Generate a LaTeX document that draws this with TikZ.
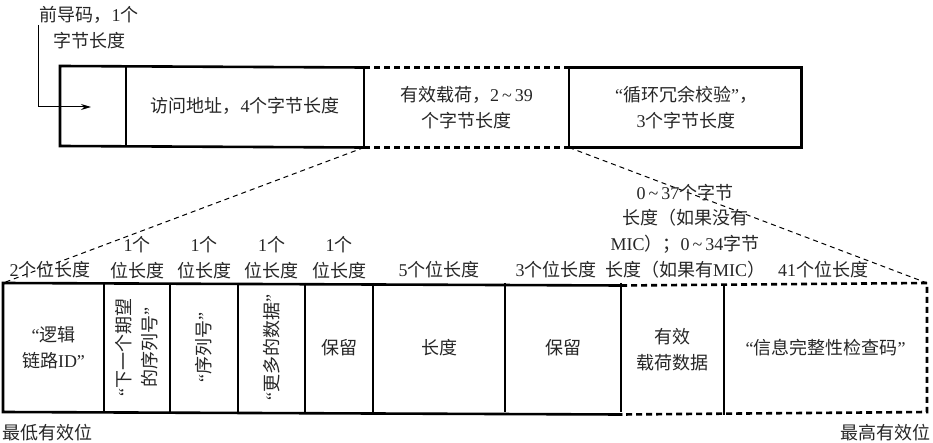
\documentclass[tikz,border=0pt]{standalone}
\usepackage{fontspec}
\setmainfont{Noto Sans CJK SC}
\newfontfamily\lat{Liberation Serif}
\usetikzlibrary{arrows.meta}
\newcommand\myoq{{\lat “}}
\newcommand\mycq{{\lat ”}}
\newcommand\dg[1]{{\lat #1}}
\newcommand\tl{\,{\lat\textasciitilde}\,}
\definecolor{txt}{HTML}{262626}
\tikzset{
  lbl/.style={font=\fontsize{18}{25.7}\selectfont, text=txt, align=center, inner sep=0pt},
  topcell/.style={lbl, minimum height=80pt, outer sep=0pt},
  botcell/.style={lbl, minimum height=129pt, outer sep=0pt},
  outer/.style={line width=2.6pt, line join=miter, line cap=rect},
  divider/.style={line width=1.3pt},
  dashedge/.style={line width=2.6pt, dash pattern=on 6pt off 4pt},
  slant/.style={line width=1pt, dash pattern=on 5pt off 4pt},
  arrowline/.style={line width=1pt, -{Stealth[length=10pt,width=6pt]}},
}
\begin{document}
\begin{tikzpicture}[x=1pt,y=-1pt]
\useasboundingbox (0,0) rectangle (933,443);
% top frame cells
\node[topcell, minimum width=66pt]  (t1) at (93,106) {};
\node[topcell, minimum width=238pt] (t2) at (245,106) {访问地址，\dg{4}个字节长度};
\node[topcell, minimum width=205pt] (t3) at (466.5,107.5) {有效载荷，\dg{2}\tl\dg{39}\\个字节长度};
\node[topcell, minimum width=231pt] (t4) at (686,107.5) {\myoq 循环冗余校验\mycq，\\\dg{3}个字节长度};
% preamble label and arrow
\node[lbl] (pre) at (89,27.5) {前导码，\dg{1}个\\字节长度};
\coordinate (as) at (38,25);
\coordinate (ae) at (91,107);
\draw[arrowline] (as) |- (ae);
% top frame lines
\draw[outer] (t3.north west) -- (t1.north west) -- (t1.south west) -- (t3.south west);
\draw[outer] (t3.north east) -- (t4.north east) -- (t4.south east) -- (t3.south east);
\draw[dashedge] (t3.north west) -- (t3.north east);
\draw[dashedge] (t3.south west) -- (t3.south east);
\foreach \c in {t1,t2,t3} \draw[divider] (\c.north east) -- (\c.south east);
% bottom frame cells
\node[botcell, minimum width=101pt] (b1) at (53.5,347.5) {\myoq 逻辑\\链路\dg{ID}\mycq};
\node[botcell, minimum width=66pt]  (b2) at (137,347.5) {};
\node[botcell, minimum width=68pt]  (b3) at (204,347.5) {};
\node[botcell, minimum width=67pt]  (b4) at (271.5,347.5) {};
\node[botcell, minimum width=68pt]  (b5) at (339,347.5) {保留};
\node[botcell, minimum width=132pt] (b6) at (439,347.5) {长度};
\node[botcell, minimum width=116pt] (b7) at (563,347.5) {保留};
\node[botcell, minimum width=103pt] (b8) at (672.5,350) {有效\\载荷数据};
\node[botcell, minimum width=203pt] (b9) at (825.5,347.5) {\myoq 信息完整性检查码\mycq};
% rotated texts
\node[lbl, rotate=90] (v2) at (b2) {\myoq 下一个期望\\的序列号\mycq};
\node[lbl, rotate=90] (v3) at (b3) {\myoq 序列号\mycq};
\node[lbl, rotate=90] (v4) at (b4) {\myoq 更多的数据\mycq};
% bottom frame lines
\draw[outer] (b8.north west) -- (b1.north west) -- (b1.south west) -- (b8.south west);
\draw[dashedge] (b8.north west) -- (b9.north east) -- (b9.south east) -- (b8.south west);
\foreach \c in {b1,b2,b3,b4,b5,b6,b7,b8} \draw[divider] (\c.north east) -- (\c.south east);
% expansion lines
\draw[slant] (t3.south west) -- (b1.north west);
\draw[slant] (t3.south east) -- (b9.north east);
% field size labels
\node[lbl] (s1) at (50,270) {\dg{2}个位长度};
\node[lbl] (s2) at (137,257.5) {\dg{1}个\\位长度};
\node[lbl] (s3) at (204,257.5) {\dg{1}个\\位长度};
\node[lbl] (s4) at (271.5,257.5) {\dg{1}个\\位长度};
\node[lbl] (s5) at (339,257.5) {\dg{1}个\\位长度};
\node[lbl] (s6) at (439,270) {\dg{5}个位长度};
\node[lbl] (s7) at (556,270) {\dg{3}个位长度};
\node[lbl] (s8) at (685,231) {\dg{0}\tl\dg{37}个字节\\长度（如果没有\\\dg{MIC}）；\dg{0}\tl\dg{34}字节\\长度（如果有\dg{MIC}）};
\node[lbl] (s9) at (823,270) {\dg{41}个位长度};
% bit order labels
\node[lbl, anchor=west] (lsb) at (2,433) {最低有效位};
\node[lbl, anchor=east] (msb) at (931,433) {最高有效位};
\end{tikzpicture}
\end{document}
